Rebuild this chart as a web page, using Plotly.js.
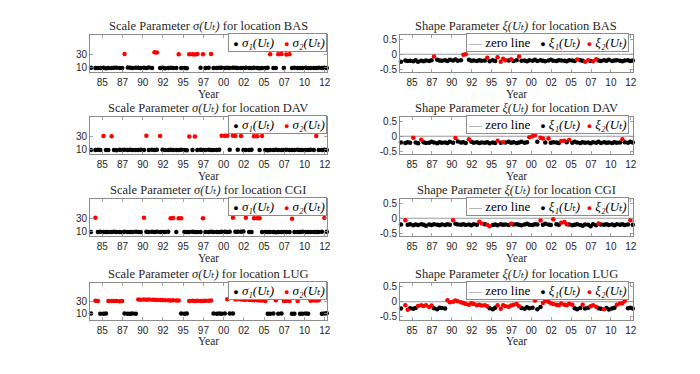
<!DOCTYPE html>
<html>
<head>
<meta charset="utf-8">
<script src="https://cdn.plot.ly/plotly-3.0.1.min.js"></script>
<style>html,body{margin:0;padding:0;background:#fff}#chart{width:700px;height:374px}</style>
</head>
<body>
<div id="chart"></div>
<script>
// ---- time grid (decimal years) ----
const years = [1983.6,
 1984.15,1984.45,1984.75, 1985.15,1985.45,1985.75, 1986.15,1986.45,1986.75, 1987.15,1987.45,1987.75, 1988.15,1988.45,1988.75,
 1989.15,1989.45,1989.75, 1990.15,1990.45,1990.75, 1991.15,1991.45,1991.75, 1992.15,1992.45,1992.75, 1993.15,1993.45,1993.75,
 1994.15,1994.45,1994.75, 1995.15,1995.45,1995.75, 1996.15,1996.45,1996.75, 1997.15,1997.45,1997.75, 1998.15,1998.45,1998.75,
 1999.15,1999.45,1999.75, 2000.15,2000.45,2000.75, 2001.15,2001.45,2001.75, 2002.15,2002.45,2002.75, 2003.15,2003.45,2003.75,
 2004.15,2004.45,2004.75, 2005.15,2005.45,2005.75, 2006.15,2006.45,2006.75, 2007.15,2007.45,2007.75, 2008.15,2008.45,2008.75,
 2009.15,2009.45,2009.75, 2010.15,2010.45,2010.75, 2011.15,2011.45,2011.75, 2012.15,2012.45,2012.75];

const tickVals = [1985,1987.5,1990,1992.5,1995,1997.5,2000,2002.5,2005,2007.5,2010,2012.5];
const tickText = ['85','87','90','92','95','97','00','02','05','07','10','12'];
const locations = ['BAS','DAV','CGI','LUG'];
const scaleNames = ['σ₁(Uₜ)','σ₂(Uₜ)'];
const shapeNames = ['zero line','ξ₁(Uₜ)','ξ₂(Uₜ)'];

// ---- regime (1 = black, 2 = red) ----
const basRegime = [1,
 1,1,1, 1,1,1, 1,1,1, 1,1,2, 1,1,1,
 1,1,1, 1,1,1, 1,2,2, 1,1,1, 1,1,1,
 1,2,1, 1,1,2, 2,2,2, 1,2,1, 1,2,1,
 1,1,1, 1,1,1, 1,1,1, 1,1,1, 1,1,1,
 1,1,1, 1,1,2, 1,1,2, 2,1,2, 2,1,1,
 1,1,1, 1,1,1, 1,1,1, 1,1,1];
const basSigma = [10.2,
 9.8,10.1,9.9, 10.3,9.7,10.0, 9.9,10.2,10.4, 10.1,9.8,30.8, 10.6,10.2,10.0,
 10.3,10.5,9.9, 10.4,10.1,10.6, 9.8,33.2,33.0, 10.0,10.3,9.7, 9.9,10.2,10.0,
 10.1,30.5,9.8, 10.0,9.7,30.2, 30.4,30.1,30.6, 10.2,30.3,10.0, 10.4,30.7,10.1,
 9.9,10.3,10.2, 10.0,10.5,10.1, 10.4,10.2,9.8, 10.1,9.9,10.3, 9.8,10.0,10.2,
 10.1,9.7,10.0, 9.9,10.2,30.4, 10.0,9.8,30.2, 30.6,10.1,30.1, 30.3,9.9,10.2,
 10.0,9.8,10.1, 10.3,9.9,10.0, 9.8,10.1,10.2, 10.0,10.3,9.9];
const basXi = [-0.25,
 -0.21,-0.23,-0.22, -0.24,-0.20,-0.25, -0.22,-0.24,-0.21, -0.23,-0.20,-0.08, -0.19,-0.21,-0.22,
 -0.20,-0.23,-0.19, -0.21,-0.18,-0.22, -0.20,-0.02,0.00, -0.19,-0.22,-0.21, -0.23,-0.20,-0.22,
 -0.21,-0.12,-0.24, -0.20,-0.23,-0.10, -0.25,-0.15,-0.20, -0.21,-0.17,-0.23, -0.20,-0.08,-0.22,
 -0.21,-0.24,-0.20, -0.22,-0.19,-0.23, -0.20,-0.22,-0.24, -0.21,-0.19,-0.22, -0.23,-0.20,-0.21,
 -0.22,-0.24,-0.20, -0.21,-0.23,-0.18, -0.20,-0.22,-0.25, -0.20,-0.23,-0.24, -0.17,-0.21,-0.23,
 -0.20,-0.22,-0.19, -0.23,-0.21,-0.20, -0.22,-0.24,-0.21, -0.20,-0.23,-0.21];

const davRegime = [1,
 1,1,1, 2,1,1, 2,1,1, 1,1,1, 1,1,1,
 1,1,1, 1,2,1, 1,1,1, 2,1,1, 1,1,1,
 1,1,1, 1,1,2, 1,2,1, 1,1,1, 1,1,1,
 1,1,2, 2,2,1, 2,2,1, 2,1,1, 1,1,2,
 2,1,2, 1,1,1, 1,1,1, 1,1,1, 1,1,1,
 1,1,1, 1,1,1, 1,2,1, 1,1,1];
const davSigma = [10.1,
 9.9,10.2,10.0, 30.6,9.8,10.1, 30.5,10.0,9.7, 10.2,9.9,10.3, 10.0,10.4,9.8,
 10.1,9.9,10.2, 10.0,31.2,9.8, 10.3,10.1,10.4, 30.8,10.2,9.9, 10.0,10.3,9.8,
 10.1,9.9,10.2, 10.0,9.7,30.1, 10.1,30.0,9.8, 10.2,9.9,10.0, 10.3,10.1,9.8,
 10.0,10.2,31.0, 31.3,31.1,10.4, 31.0,30.8,10.2, 30.9,10.0,9.9, 10.1,10.3,30.2,
 30.4,9.8,30.6, 10.0,9.7,10.1, 9.9,10.2,10.0, 10.1,9.8,10.2, 10.0,10.1,9.9,
 10.2,9.8,10.0, 9.9,10.1,10.2, 10.0,30.7,10.1, 9.9,10.2,10.0];
const davXi = [-0.21,
 -0.23,-0.20,-0.22, -0.05,-0.21,-0.24, -0.12,-0.20,-0.23, -0.22,-0.19,-0.21, -0.24,-0.20,-0.22,
 -0.21,-0.23,-0.19, -0.22,-0.06,-0.18, -0.21,-0.20,-0.23, -0.10,-0.19,-0.22, -0.20,-0.23,-0.21,
 -0.22,-0.20,-0.24, -0.21,-0.23,-0.15, -0.22,-0.20,-0.21, -0.19,-0.22,-0.20, -0.23,-0.21,-0.19,
 -0.22,-0.20,-0.03, 0.00,0.03,-0.19, -0.05,-0.08,-0.21, -0.08,-0.22,-0.20, -0.21,-0.23,-0.16,
 -0.15,-0.20,-0.13, -0.22,-0.19,-0.21, -0.23,-0.20,-0.22, -0.21,-0.24,-0.20, -0.22,-0.19,-0.23,
 -0.20,-0.22,-0.21, -0.23,-0.20,-0.22, -0.21,-0.10,-0.20, -0.22,-0.19,-0.21];

const cgiRegime = [1,
 2,1,1, 1,1,1, 1,1,1, 1,1,1, 1,1,1,
 1,1,1, 2,1,1, 1,1,1, 1,1,1, 1,2,2,
 1,2,2, 1,1,1, 1,1,1, 1,2,1, 1,1,1,
 1,1,1, 1,1,1, 2,1,1, 1,1,2, 1,1,2,
 2,2,1, 1,1,1, 1,1,1, 1,1,1, 1,2,1,
 1,1,1, 1,1,1, 1,1,1, 1,2,1];
const cgiSigma = [10.0,
 31.0,9.8,10.2, 10.1,9.9,10.0, 9.8,10.2,10.1, 10.0,9.7,10.3, 10.1,9.9,10.0,
 10.2,10.0,9.8, 31.2,10.4,10.1, 10.2,9.9,10.3, 10.0,10.1,9.8, 10.2,30.4,30.6,
 9.9,30.2,30.5, 10.0,9.8,10.1, 10.2,9.9,10.0, 9.8,30.3,10.1, 10.0,10.2,9.9,
 10.1,9.8,10.2, 10.3,10.1,10.4, 31.1,10.2,10.5, 10.3,10.6,31.0, 10.0,9.9,30.5,
 30.4,30.2,10.1, 9.9,10.0,9.8, 10.1,9.7,10.0, 9.8,10.1,9.9, 10.0,29.8,10.1,
 9.9,10.0,10.2, 10.1,9.9,10.0, 9.8,10.0,10.1, 10.2,30.6,10.3];
const cgiXi = [-0.21,
 -0.07,-0.22,-0.20, -0.24,-0.21,-0.23, -0.20,-0.22,-0.25, -0.21,-0.23,-0.20, -0.22,-0.24,-0.21,
 -0.23,-0.20,-0.22, -0.07,-0.19,-0.21, -0.22,-0.20,-0.23, -0.21,-0.24,-0.20, -0.22,-0.12,-0.18,
 -0.20,-0.22,-0.27, -0.23,-0.21,-0.24, -0.20,-0.22,-0.21, -0.23,-0.19,-0.21, -0.20,-0.22,-0.24,
 -0.21,-0.19,-0.22, -0.23,-0.20,-0.21, -0.08,-0.22,-0.19, -0.21,-0.23,-0.03, -0.20,-0.22,-0.15,
 -0.13,-0.20,-0.21, -0.24,-0.22,-0.20, -0.23,-0.25,-0.21, -0.22,-0.27,-0.20, -0.24,-0.18,-0.21,
 -0.22,-0.20,-0.23, -0.21,-0.24,-0.20, -0.22,-0.20,-0.23, -0.21,-0.07,-0.22];

const lugRegime = [1,
 2,2,1, 1,1,2, 2,2,2, 2,2,1, 1,1,1,
 1,2,2, 2,2,2, 2,2,2, 2,2,2, 2,2,2,
 2,2,1, 1,1,2, 2,2,2, 2,2,2, 2,2,1,
 1,1,1, 1,2,1, 1,2,2, 2,2,2, 2,2,2,
 2,2,2, 2,1,1, 1,2,1, 1,2,2, 2,1,1,
 2,1,1, 1,1,2, 2,2,2, 1,1,1];
const lugSigma = [10.1,
 31.8,31.5,10.0, 9.8,10.2,31.4, 31.6,31.3,31.5, 31.2,31.4,10.3, 10.0,9.9,10.2,
 9.8,34.2,33.8, 34.0,33.6,33.9, 33.5,33.7,33.2, 33.0,33.4,32.8, 32.6,32.4,32.7,
 32.3,32.5,10.1, 9.7,10.2,31.5, 31.8,31.6,31.9, 31.7,31.5,32.0, 31.8,32.2,10.4,
 10.0,10.3,9.9, 10.2,34.5,10.1, 10.4,34.1,34.6, 34.3,33.8,33.5, 33.2,33.0,32.8,
 32.7,32.5,32.4, 31.6,10.0,9.8, 10.1,32.8,9.9, 10.2,31.5,31.8, 31.4,9.8,9.7,
 31.6,10.0,9.9, 10.1,9.8,32.0, 32.4,32.2,32.6, 9.9,10.2,10.5];
const lugXi = [-0.23,
 -0.12,-0.27,-0.22, -0.24,-0.21,-0.14, -0.12,-0.14,-0.12, -0.18,-0.13,-0.22, -0.25,-0.20,-0.21,
 -0.23,0.05,-0.02, 0.00,0.04,0.02, -0.02,-0.04,-0.08, -0.10,-0.05,-0.08, -0.12,-0.10,-0.13,
 -0.12,-0.15,-0.22, -0.25,-0.20,-0.12, -0.24,-0.12,-0.15, -0.17,-0.13,-0.10, -0.08,-0.15,-0.21,
 -0.24,-0.19,-0.22, -0.20,0.04,-0.25, -0.18,-0.04,0.03, 0.00,-0.05,-0.08, -0.10,-0.12,-0.06,
 -0.10,-0.12,-0.07, -0.10,-0.22,-0.25, -0.21,-0.10,-0.23, -0.20,-0.15,-0.12, -0.17,-0.22,-0.24,
 -0.25,-0.21,-0.26, -0.23,-0.20,-0.10, -0.06,-0.05,0.03, -0.22,-0.20,-0.23];

const regimes = [basRegime, davRegime, cgiRegime, lugRegime];
const sigmas = [basSigma, davSigma, cgiSigma, lugSigma];
const xis = [basXi, davXi, cgiXi, lugXi];

// ---- layout constants ----
const W = 700, H = 374;
const xRange = [1983.48, 2012.78];
const colDomains = [[90/W, 327/W], [400/W, 633/W]];
const rowTops = [35, 117, 199, 282.5];
const rowH = 37;
const scaleRanges = [[4, 59], [4, 59], [4, 59], [0, 63]];
const shapeRange = [-0.6, 0.65];
const serif = 'Liberation Serif, DejaVu Serif, serif';
const sans = 'Liberation Sans, Arial, sans-serif';
const axisGray = '#8c8c8c';
const red = '#ff0000';
const mSize = 4.5;

function pick(arr, reg, r) { return arr.filter((v, i) => reg[i] === r); }

const traces = [];
const layout = {
  width: W, height: H, margin: {l: 0, r: 0, t: 0, b: 0},
  paper_bgcolor: '#fff', plot_bgcolor: '#fff', showlegend: false,
  annotations: [], font: {family: serif, size: 12, color: '#262626'}
};

const dot = (col) => '<span style="color:' + col + ';font-size:9px">●</span>';
const sp = '&nbsp;';

locations.forEach((loc, r) => {
  const yDom = [1 - (rowTops[r] + rowH) / H, 1 - rowTops[r] / H];
  const reg = regimes[r];
  [0, 1].forEach(c => {
    const k = 2 * r + c + 1;
    const xa = 'x' + k, ya = 'y' + k;
    const xKey = 'xaxis' + k, yKey = 'yaxis' + k;
    layout[xKey] = {
      domain: colDomains[c], anchor: ya, range: xRange,
      tickmode: 'array', tickvals: tickVals, ticktext: tickText,
      ticks: 'inside', ticklen: 3, tickcolor: axisGray, tickwidth: 0.8,
      showline: true, linecolor: axisGray, linewidth: 1, mirror: 'ticks',
      showgrid: false, zeroline: false, ticklabelstandoff: 1,
      tickfont: {family: sans, size: 10, color: '#262626'},
      title: {text: 'Year', font: {family: serif, size: 11.5, color: '#262626'}, standoff: 0}
    };
    const yBase = {
      domain: yDom, anchor: xa,
      ticks: 'inside', ticklen: 3, tickcolor: axisGray, tickwidth: 0.8,
      showline: true, linecolor: axisGray, linewidth: 1, mirror: 'ticks',
      showgrid: false, zeroline: false,
      tickfont: {family: sans, size: 10, color: '#262626'}
    };
    const xMid = (colDomains[c][0] + colDomains[c][1]) / 2;
    const titleAnn = {xref: 'paper', yref: 'paper', x: xMid, y: yDom[1], xanchor: 'center', yanchor: 'middle', yshift: 9,
      showarrow: false, font: {family: serif, size: 12.5, color: '#262626'}};
    const legAnn = {xref: 'paper', yref: 'paper', x: colDomains[c][1], y: yDom[1], xanchor: 'right', yanchor: 'top', yshift: 2,
      showarrow: false, bgcolor: '#fff', bordercolor: axisGray, borderwidth: 1, borderpad: 1,
      font: {family: serif, size: 13, color: '#000'}};
    if (c === 0) {
      layout[yKey] = Object.assign({}, yBase, {range: scaleRanges[r], tickmode: 'array', tickvals: [10, 30], ticktext: ['10', '30']});
      traces.push({x: pick(years, reg, 1), y: pick(sigmas[r], reg, 1), xaxis: xa, yaxis: ya, type: 'scatter', mode: 'markers',
        name: scaleNames[0], cliponaxis: false, marker: {color: '#000', size: mSize}});
      traces.push({x: pick(years, reg, 2), y: pick(sigmas[r], reg, 2), xaxis: xa, yaxis: ya, type: 'scatter', mode: 'markers',
        name: scaleNames[1], cliponaxis: false, marker: {color: red, size: mSize}});
      layout.annotations.push(Object.assign({}, titleAnn, {
        text: 'Scale Parameter <i>σ(Uₜ)</i> for location ' + loc}));
      layout.annotations.push(Object.assign({}, legAnn, {
        text: sp + dot('#000') + sp + '<i>' + scaleNames[0] + '</i>' + sp + sp + sp +
              dot(red) + sp + '<i>' + scaleNames[1] + '</i>'}));
    } else {
      layout[yKey] = Object.assign({}, yBase, {range: shapeRange, tickmode: 'array', tickvals: [-0.5, 0, 0.5], ticktext: ['-0.5', '0', '0.5']});
      traces.push({x: xRange, y: [0, 0], xaxis: xa, yaxis: ya, type: 'scatter', mode: 'lines', name: shapeNames[0],
        line: {color: '#808080', width: 0.8}});
      traces.push({x: pick(years, reg, 1), y: pick(xis[r], reg, 1), xaxis: xa, yaxis: ya, type: 'scatter', mode: 'markers',
        name: shapeNames[1], cliponaxis: false, marker: {color: '#000', size: mSize}});
      traces.push({x: pick(years, reg, 2), y: pick(xis[r], reg, 2), xaxis: xa, yaxis: ya, type: 'scatter', mode: 'markers',
        name: shapeNames[2], cliponaxis: false, marker: {color: red, size: mSize}});
      layout.annotations.push(Object.assign({}, titleAnn, {
        text: 'Shape Parameter <i>ξ(Uₜ)</i> for location ' + loc}));
      layout.annotations.push(Object.assign({}, legAnn, {xshift: -4,
        text: '<span style="color:#808080">—</span>' + sp + shapeNames[0] + sp + sp + sp +
              dot('#000') + sp + '<i>' + shapeNames[1] + '</i>' + sp + sp +
              dot(red) + sp + '<i>' + shapeNames[2] + '</i>'}));
    }
  });
});

Plotly.newPlot('chart', traces, layout, {staticPlot: true, displayModeBar: false});
</script>
</body>
</html>
